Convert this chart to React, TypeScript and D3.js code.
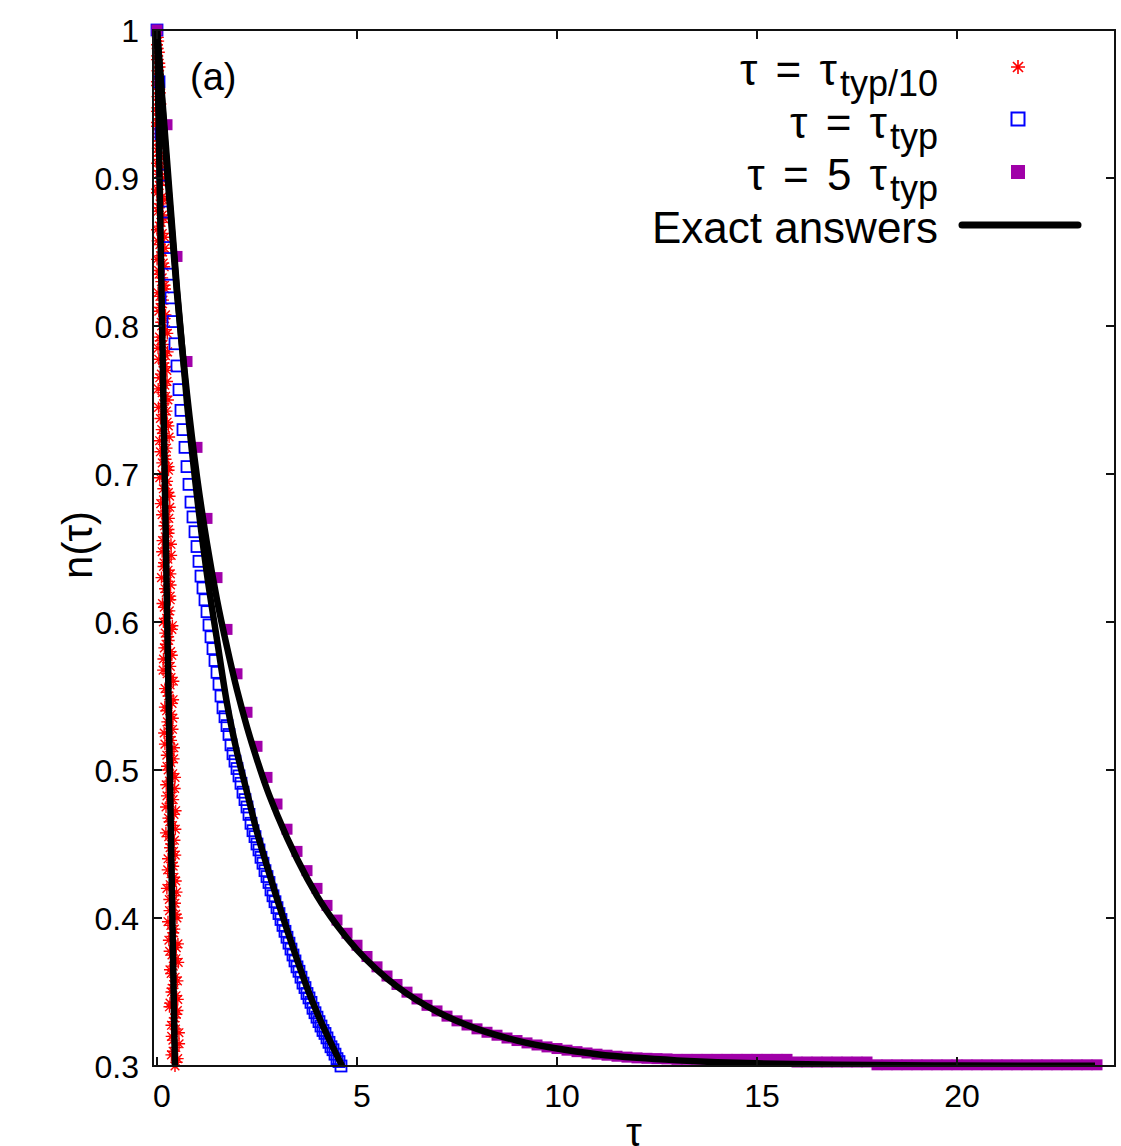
import React from 'react';
import * as d3 from 'd3';

// ---------- data ----------
const xTicks = [0, 5, 10, 15, 20];
const xTickLabels = ['0', '5', '10', '15', '20'];
const yTicks = [0.3, 0.4, 0.5, 0.6, 0.7, 0.8, 0.9, 1.0];
const yTickLabels = ['0.3', '0.4', '0.5', '0.6', '0.7', '0.8', '0.9', '1'];

// tau = tau_typ/10 (red stars), two interleaved runs of samples
const redT = [
  0, 0.021, 0, 0.046, 0, 0.064, 0.025, 0, 0.056, 0.011,
  0.086, 0, 0.051, 0, 0.087, 0.048, 0.021, 0.079, 0.004, 0.079,
  0.130, 0.057, 0, 0.162, 0.044, 0.135, 0.095, 0, 0.189, 0.071,
  0.140, 0.001, 0.180, 0.051, 0.109, 0.201, 0.072, 0.141, 0.045, 0.191,
  0.115, 0.258, 0.093, 0.026, 0.211, 0.159, 0.246, 0.067, 0.196, 0.130,
  0.273, 0.038, 0.167, 0.254, 0.118, 0.303, 0.166, 0.085, 0.214, 0.288,
  0.123, 0.252, 0.157, 0.315, 0.094, 0.223, 0.296, 0.187, 0.289, 0.138,
  0.225, 0.354, 0.175, 0.277, 0.112, 0.339, 0.230, 0.332, 0.181, 0.282,
  0.159, 0.372, 0.278, 0.225, 0.340, 0.161, 0.332, 0.252, 0.409, 0.202,
  0.289, 0.377, 0.240, 0.397, 0.288, 0.179, 0.351, 0.424, 0.245, 0.346,
  0.279, 0.451, 0.230, 0.345, 0.404, 0.226, 0.425, 0.316, 0.459, 0.294,
  0.354, 0.413, 0.276, 0.405, 0.352, 0.468, 0.247, 0.404, 0.449, 0.313,
  0.498, 0.347, 0.406, 0.297, 0.483, 0.374, 0.531, 0.324, 0.453, 0.415,
  0.362, 0.519, 0.312, 0.484, 0.417, 0.462, 0.367, 0.552, 0.402, 0.517,
  0.450,
];
const redN = [
  1, 0.995, 0.99, 0.985, 0.98, 0.975, 0.97, 0.965, 0.96, 0.955,
  0.95, 0.945, 0.94, 0.935, 0.93, 0.925, 0.92, 0.915, 0.91, 0.905,
  0.9, 0.895, 0.89, 0.885, 0.88, 0.875, 0.87, 0.865, 0.86, 0.855,
  0.85, 0.845, 0.84, 0.835, 0.83, 0.825, 0.82, 0.815, 0.81, 0.805,
  0.8, 0.795, 0.79, 0.785, 0.78, 0.775, 0.77, 0.765, 0.76, 0.755,
  0.75, 0.745, 0.74, 0.735, 0.73, 0.725, 0.72, 0.715, 0.71, 0.705,
  0.7, 0.695, 0.69, 0.685, 0.68, 0.675, 0.67, 0.665, 0.66, 0.655,
  0.65, 0.645, 0.64, 0.635, 0.63, 0.625, 0.62, 0.615, 0.61, 0.605,
  0.6, 0.595, 0.59, 0.585, 0.58, 0.575, 0.57, 0.565, 0.56, 0.555,
  0.55, 0.545, 0.54, 0.535, 0.53, 0.525, 0.52, 0.515, 0.51, 0.505,
  0.5, 0.495, 0.49, 0.485, 0.48, 0.475, 0.47, 0.465, 0.46, 0.455,
  0.45, 0.445, 0.44, 0.435, 0.43, 0.425, 0.42, 0.415, 0.41, 0.405,
  0.4, 0.395, 0.39, 0.385, 0.38, 0.375, 0.37, 0.365, 0.36, 0.355,
  0.35, 0.345, 0.34, 0.335, 0.33, 0.325, 0.32, 0.315, 0.31, 0.305,
  0.3,
];
const redT2 = [
  0, 0.029, 0.014, 0, 0.056, 0.012, 0.039, 0, 0.075, 0.043,
  0.010, 0.073, 0, 0.073, 0.035, 0.104, 0.035, 0.062, 0.101, 0.027,
  0.099, 0, 0.138, 0.076, 0.024, 0.170, 0.063, 0.132, 0.015, 0.194,
  0.087, 0.156, 0.039, 0.130, 0.188, 0.026, 0.150, 0.077, 0.212, 0.105,
  0.214, 0.063, 0.151, 0.266, 0.045, 0.188, 0.108, 0.251, 0.030, 0.215,
  0.162, 0.236, 0.085, 0.284, 0.147, 0.066, 0.238, 0.199, 0.132, 0.289,
  0.069, 0.226, 0.285, 0.162, 0.319, 0.127, 0.214, 0.287, 0.206, 0.349,
  0.129, 0.272, 0.163, 0.334, 0.254, 0.201, 0.330, 0.137, 0.308, 0.242,
  0.385, 0.206, 0.293, 0.184, 0.370, 0.275, 0.152, 0.351, 0.327, 0.260,
  0.403, 0.196, 0.353, 0.259, 0.388, 0.321, 0.198, 0.341, 0.415, 0.250,
  0.393, 0.312, 0.442, 0.249, 0.336, 0.465, 0.286, 0.388, 0.223, 0.436,
  0.327, 0.456, 0.376, 0.267, 0.424, 0.329, 0.487, 0.308, 0.409, 0.468,
  0.275, 0.433, 0.380, 0.523, 0.316, 0.473, 0.407, 0.354, 0.511, 0.388,
  0.476, 0.325, 0.510, 0.443, 0.362, 0.548, 0.397, 0.470, 0.361, 0.491,
];
const redN2 = [
  0.9975, 0.9925, 0.9875, 0.9825, 0.9775, 0.9725, 0.9675, 0.9625, 0.9575, 0.9525,
  0.9475, 0.9425, 0.9375, 0.9325, 0.9275, 0.9225, 0.9175, 0.9125, 0.9075, 0.9025,
  0.8975, 0.8925, 0.8875, 0.8825, 0.8775, 0.8725, 0.8675, 0.8625, 0.8575, 0.8525,
  0.8475, 0.8425, 0.8375, 0.8325, 0.8275, 0.8225, 0.8175, 0.8125, 0.8075, 0.8025,
  0.7975, 0.7925, 0.7875, 0.7825, 0.7775, 0.7725, 0.7675, 0.7625, 0.7575, 0.7525,
  0.7475, 0.7425, 0.7375, 0.7325, 0.7275, 0.7225, 0.7175, 0.7125, 0.7075, 0.7025,
  0.6975, 0.6925, 0.6875, 0.6825, 0.6775, 0.6725, 0.6675, 0.6625, 0.6575, 0.6525,
  0.6475, 0.6425, 0.6375, 0.6325, 0.6275, 0.6225, 0.6175, 0.6125, 0.6075, 0.6025,
  0.5975, 0.5925, 0.5875, 0.5825, 0.5775, 0.5725, 0.5675, 0.5625, 0.5575, 0.5525,
  0.5475, 0.5425, 0.5375, 0.5325, 0.5275, 0.5225, 0.5175, 0.5125, 0.5075, 0.5025,
  0.4975, 0.4925, 0.4875, 0.4825, 0.4775, 0.4725, 0.4675, 0.4625, 0.4575, 0.4525,
  0.4475, 0.4425, 0.4375, 0.4325, 0.4275, 0.4225, 0.4175, 0.4125, 0.4075, 0.4025,
  0.3975, 0.3925, 0.3875, 0.3825, 0.3775, 0.3725, 0.3675, 0.3625, 0.3575, 0.3525,
  0.3475, 0.3425, 0.3375, 0.3325, 0.3275, 0.3225, 0.3175, 0.3125, 0.3075, 0.3025,
];

// tau = tau_typ (blue open squares)
const blueT = [
  0, 0.05, 0.1, 0.15, 0.2, 0.25, 0.3, 0.35, 0.4, 0.45,
  0.5, 0.55, 0.6, 0.65, 0.7, 0.75, 0.8, 0.85, 0.9, 0.95,
  1.0, 1.05, 1.1, 1.15, 1.2, 1.25, 1.3, 1.35, 1.4, 1.45,
  1.5, 1.55, 1.6, 1.65, 1.7, 1.75, 1.8, 1.85, 1.9, 1.95,
  2.0, 2.05, 2.1, 2.15, 2.2, 2.25, 2.3, 2.35, 2.4, 2.45,
  2.5, 2.55, 2.6, 2.65, 2.7, 2.75, 2.8, 2.85, 2.9, 2.95,
  3.0, 3.05, 3.1, 3.15, 3.2, 3.25, 3.3, 3.35, 3.4, 3.45,
  3.5, 3.55, 3.6, 3.65, 3.7, 3.75, 3.8, 3.85, 3.9, 3.95,
  4.0, 4.05, 4.1, 4.15, 4.2, 4.25, 4.3, 4.35, 4.4, 4.45,
  4.5, 4.55, 4.6,
];
const blueN = [
  1.000, 0.965, 0.930, 0.902, 0.877, 0.853, 0.835, 0.819, 0.803, 0.788,
  0.773, 0.757, 0.743, 0.730, 0.718, 0.705, 0.693, 0.681, 0.671, 0.661,
  0.651, 0.641, 0.631, 0.623, 0.615, 0.607, 0.598, 0.590, 0.582, 0.574,
  0.566, 0.558, 0.550, 0.542, 0.536, 0.530, 0.524, 0.517, 0.511, 0.506,
  0.501, 0.496, 0.491, 0.485, 0.480, 0.475, 0.470, 0.464, 0.459, 0.455,
  0.450, 0.446, 0.441, 0.437, 0.432, 0.428, 0.424, 0.419, 0.415, 0.411,
  0.407, 0.403, 0.399, 0.395, 0.391, 0.387, 0.383, 0.379, 0.375, 0.371,
  0.367, 0.364, 0.360, 0.356, 0.353, 0.349, 0.346, 0.343, 0.339, 0.336,
  0.333, 0.330, 0.327, 0.324, 0.322, 0.319, 0.316, 0.313, 0.311, 0.308,
  0.305, 0.303, 0.300,
];

// tau = 5 tau_typ (purple filled squares)
const purpleT = [
  0, 0.25, 0.5, 0.75, 1.0, 1.25, 1.5, 1.75, 2.0, 2.25,
  2.5, 2.75, 3.0, 3.25, 3.5, 3.75, 4.0, 4.25, 4.5, 4.75,
  5.0, 5.25, 5.5, 5.75, 6.0, 6.25, 6.5, 6.75, 7.0, 7.25,
  7.5, 7.75, 8.0, 8.25, 8.5, 8.75, 9.0, 9.25, 9.5, 9.75,
  10.0, 10.25, 10.5, 10.75, 11.0, 11.25, 11.5, 11.75, 12.0, 12.25,
  12.5, 12.75, 13.0, 13.25, 13.5, 13.75, 14.0, 14.25, 14.5, 14.75,
  15.0, 15.25, 15.5, 15.75, 16.0, 16.25, 16.5, 16.75, 17.0, 17.25,
  17.5, 17.75, 18.0, 18.25, 18.5, 18.75, 19.0, 19.25, 19.5, 19.75,
  20.0, 20.25, 20.5, 20.75, 21.0, 21.25, 21.5, 21.75, 22.0, 22.25,
  22.5, 22.75, 23.0, 23.25, 23.5,
];
const purpleN = [
  1.000, 0.936, 0.847, 0.776, 0.718, 0.670, 0.630, 0.595, 0.565, 0.539,
  0.516, 0.495, 0.477, 0.460, 0.445, 0.432, 0.420, 0.4085, 0.3986, 0.3897,
  0.3816, 0.374, 0.367, 0.3608, 0.3551, 0.3499, 0.3453, 0.341, 0.3372, 0.3337,
  0.3305, 0.3277, 0.3251, 0.3228, 0.3208, 0.3189, 0.3172, 0.3156, 0.3142, 0.3129,
  0.3118, 0.3107, 0.3097, 0.3088, 0.308, 0.3073, 0.3066, 0.306, 0.3055, 0.3052,
  0.305, 0.3048, 0.3045, 0.3045, 0.3045, 0.3045, 0.3045, 0.3045, 0.3045, 0.3045,
  0.3045, 0.3045, 0.3045, 0.3045, 0.3027, 0.3027, 0.3027, 0.3027, 0.3027, 0.3027,
  0.3027, 0.3027, 0.3008, 0.3008, 0.3008, 0.3008, 0.3008, 0.3008, 0.3008, 0.3008,
  0.3008, 0.3008, 0.3008, 0.3008, 0.3008, 0.3008, 0.3008, 0.3008, 0.3008, 0.3008,
  0.3008, 0.3008, 0.3008, 0.3008, 0.3008,
];

// exact answers (black lines)
const redExactT = [0, 0.064, 0.128, 0.192, 0.256, 0.32, 0.384, 0.448];
const redExactN = [1, 0.9, 0.8, 0.7, 0.6, 0.5, 0.4, 0.3];
const blueExactT = [0, 0.25, 0.5, 0.75, 1, 1.25, 1.5, 1.75, 2, 2.25, 2.5, 2.75, 3, 3.25, 3.5, 3.75, 4, 4.25, 4.5, 4.63];
const blueExactN = [1, 0.912, 0.825, 0.748, 0.685, 0.632, 0.588, 0.545, 0.512, 0.485, 0.458, 0.435, 0.413, 0.392, 0.372, 0.353, 0.336, 0.321, 0.307, 0.3];
const purpleExactT = [0, 0.25, 0.5, 0.75, 1, 1.25, 1.5, 1.75, 2, 2.25, 2.5, 2.75, 3, 3.5, 4, 4.5, 5, 5.5, 6, 6.5, 7, 7.5, 8, 9, 10, 11, 12, 13, 14, 15, 17, 20, 23.45];
const purpleExactN = [1, 0.905, 0.822, 0.754, 0.698, 0.653, 0.615, 0.583, 0.554, 0.529, 0.507, 0.487, 0.47, 0.44, 0.415, 0.395, 0.3785, 0.365, 0.3537, 0.3444, 0.3367, 0.3304, 0.3251, 0.3172, 0.3118, 0.308, 0.3055, 0.3038, 0.3026, 0.3018, 0.3008, 0.3003, 0.3001];

const legendMain = ['τ = τ', 'τ = τ', 'τ = 5 τ', 'Exact answers'];
const legendSub = ['typ/10', 'typ', 'typ', ''];

// ---------- styles ----------
const RED = '#ff0000';
const BLUE = '#0000ff';
const PURPLE = '#a000a8';
const FONT = '"Liberation Sans", Arial, Helvetica, sans-serif';

const W = 1121;
const H = 1146;
const L = 153, R = 1115, T = 30, B = 1066;

const zip = (a: number[], b: number[]): [number, number][] => a.map((v, i) => [v, b[i]]);

const starPath = (s: number) =>
  `M${-s},0H${s}M0,${-s}V${s}M${-s * 0.72},${-s * 0.72}L${s * 0.72},${s * 0.72}M${-s * 0.72},${s * 0.72}L${s * 0.72},${-s * 0.72}`;

export default function App() {
  const x = d3.scaleLinear().domain([-0.1, 23.95]).range([L, R]);
  const y = d3.scaleLinear().domain([0.3, 1.0]).range([B, T]);
  const line = d3
    .line<[number, number]>()
    .x((d) => x(d[0]))
    .y((d) => y(d[1]))
    .curve(d3.curveMonotoneX);

  const red = [...zip(redT, redN), ...zip(redT2, redN2)];
  const blue = zip(blueT, blueN);
  const purple = zip(purpleT, purpleN);
  const exacts = [zip(redExactT, redExactN), zip(blueExactT, blueExactN), zip(purpleExactT, purpleExactN)];

  const ms = 11; // marker size
  const tickLen = 9;
  const legendY = [85, 138, 190, 243];
  const symX = 1018;

  return (
    <svg
      width={W}
      height={H}
      viewBox={`0 0 ${W} ${H}`}
      style={{ position: 'absolute', left: 0, top: 0, display: 'block' }}
      fontFamily={FONT}
    >
      <defs>
        <clipPath id="plotClip">
          <rect x={L} y={T} width={R - L} height={B - T} />
        </clipPath>
      </defs>
      <rect x={0} y={0} width={W} height={H} fill="#fff" />

      {/* red stars */}
      <g stroke={RED} strokeWidth={1.4} fill="none">
        {red.map((d, i) => (
          <path key={i} d={starPath(6)} transform={`translate(${x(d[0])},${y(d[1])})`} />
        ))}
      </g>
      {/* blue open squares */}
      <g stroke={BLUE} strokeWidth={1.8} fill="none">
        {blue.map((d, i) => (
          <rect key={i} x={x(d[0]) - ms / 2} y={y(d[1]) - ms / 2} width={ms} height={ms} />
        ))}
      </g>
      {/* purple filled squares */}
      <g fill={PURPLE}>
        {purple.map((d, i) => (
          <rect key={i} x={x(d[0]) - ms / 2} y={y(d[1]) - ms / 2} width={ms} height={ms} />
        ))}
      </g>
      {/* exact answers */}
      <g clipPath="url(#plotClip)" fill="none" stroke="#000" strokeWidth={6.5} strokeLinejoin="round">
        {exacts.map((e, i) => (
          <path key={i} d={line(e) || ''} />
        ))}
      </g>

      {/* frame and ticks */}
      <g stroke="#111" strokeWidth={2} fill="none">
        <rect x={L} y={T} width={R - L} height={B - T} />
        {xTicks.map((v) => (
          <g key={'xt' + v}>
            <line x1={x(v)} x2={x(v)} y1={B} y2={B - tickLen} />
            <line x1={x(v)} x2={x(v)} y1={T} y2={T + tickLen} />
          </g>
        ))}
        {yTicks.map((v) => (
          <g key={'yt' + v}>
            <line x1={L} x2={L + tickLen} y1={y(v)} y2={y(v)} />
            <line x1={R} x2={R - tickLen} y1={y(v)} y2={y(v)} />
          </g>
        ))}
      </g>

      {/* tick labels */}
      <g fontSize={32} fill="#000">
        {xTicks.map((v, i) => (
          <text key={'xl' + v} x={x(v) + 5} y={1107} textAnchor="middle">
            {xTickLabels[i]}
          </text>
        ))}
        {yTicks.map((v, i) => (
          <text key={'yl' + v} x={139} y={y(v) + 11.5} textAnchor="end">
            {yTickLabels[i]}
          </text>
        ))}
      </g>

      {/* axis titles */}
      <text x={77} y={545} fontSize={42} textAnchor="middle" dominantBaseline="central" transform="rotate(-90 77 545)">
        n(τ)
      </text>
      <text x={634} y={1146} fontSize={40} textAnchor="middle">
        τ
      </text>

      {/* panel label */}
      <text x={190} y={90} fontSize={38}>
        (a)
      </text>

      {/* legend */}
      <g fontSize={44} fill="#000">
        {legendMain.map((m, i) => (
          <text key={'lg' + i} x={938} y={legendY[i]} textAnchor="end">
            <tspan letterSpacing={legendSub[i] ? 3 : 0}>{m}</tspan>
            {legendSub[i] ? (
              <tspan fontSize={36} dy={11}>
                {legendSub[i]}
              </tspan>
            ) : null}
          </text>
        ))}
      </g>
      <path d={starPath(7)} transform={`translate(${symX},${legendY[0] - 18})`} stroke={RED} strokeWidth={1.6} fill="none" />
      <rect x={symX - 6.5} y={legendY[1] - 19 - 6.5} width={13} height={13} stroke={BLUE} strokeWidth={2} fill="none" />
      <rect x={symX - 7} y={legendY[2] - 18 - 7} width={14} height={14} fill={PURPLE} />
      <line x1={962} x2={1078} y1={legendY[3] - 18} y2={legendY[3] - 18} stroke="#000" strokeWidth={7} strokeLinecap="round" />
    </svg>
  );
}
